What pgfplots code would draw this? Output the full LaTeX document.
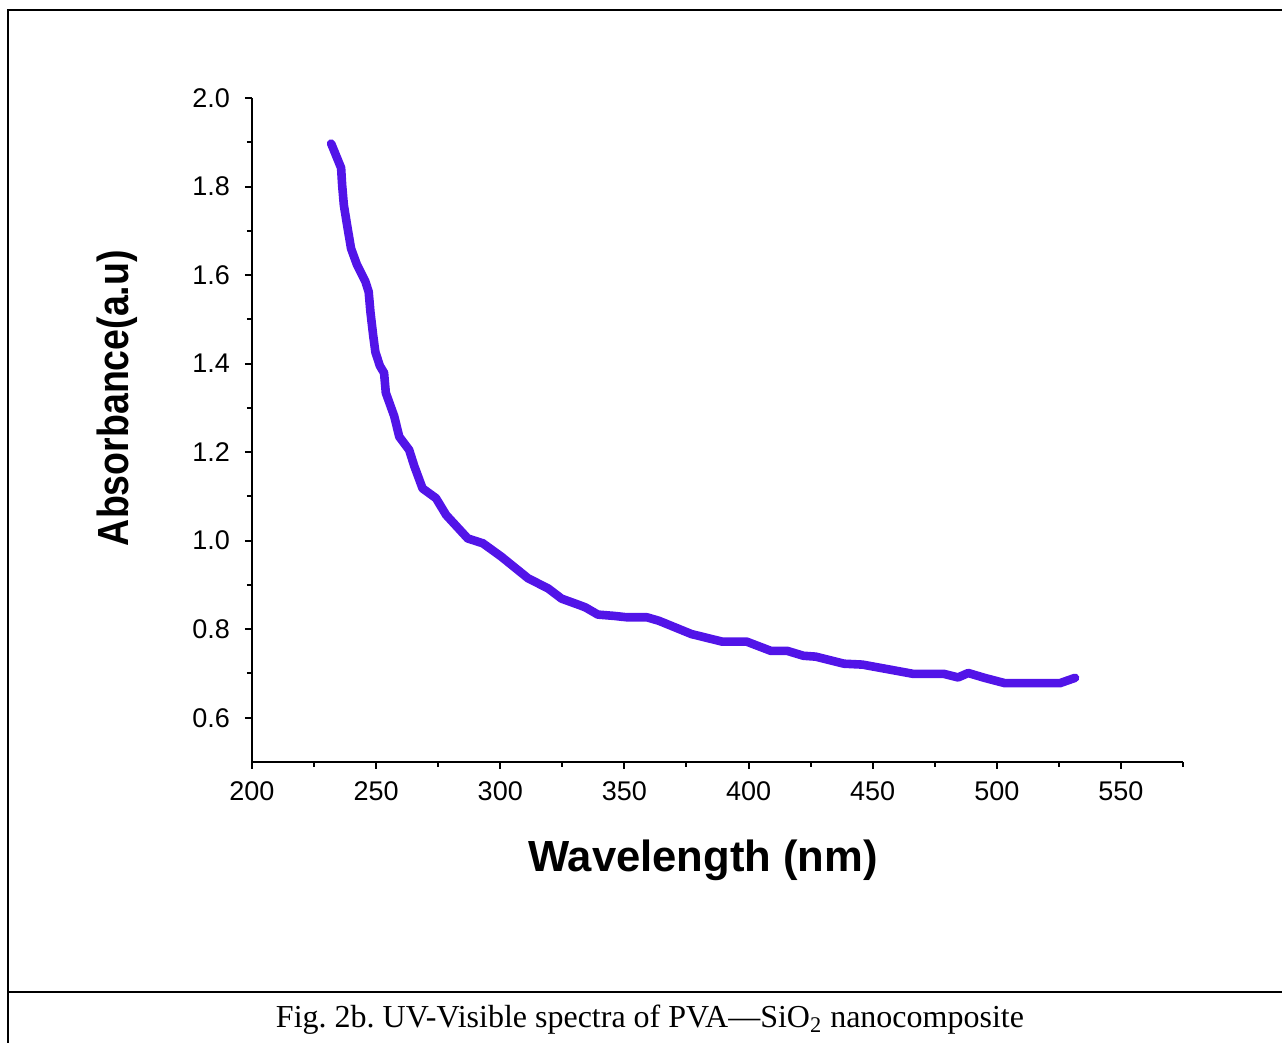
\documentclass[border=0pt]{standalone}
\usepackage{pgfplots}
\pgfplotsset{compat=1.18}
\usepackage{fontspec}
\setmainfont{Liberation Sans}
\newfontfamily\capfont{Liberation Serif}
\definecolor{specblue}{RGB}{82,20,232}

\begin{document}
\frenchspacing
\begin{tikzpicture}
\useasboundingbox (-126pt,-140.5pt) rectangle (515pt,381pt);
% page frame (right side cut off in the original)
\draw[line width=0.8pt] (515pt,376pt) -- (-122pt,376pt) -- (-122pt,-141pt);
\draw[line width=0.8pt] (-122pt,-115pt) -- (515pt,-115pt);
\node[font=\capfont\fontsize{16}{19}\selectfont] at (199pt,-129pt)
  {Fig. 2b. UV-Visible spectra of PVA—SiO\textsubscript{2} nanocomposite};

\begin{axis}[
  scale only axis,
  width=465.5pt,height=332pt,
  xmin=200,xmax=575,
  ymin=0.5,ymax=2.0,
  axis lines=left,
  axis line style={-,line width=1.3pt},
  tick align=outside,
  tick style={black,line width=1pt},
  major tick length=3.5pt,
  minor tick length=2.5pt,
  xtick={200,250,300,350,400,450,500,550},
  minor xtick={225,275,325,375,425,475,525,575},
  ytick={0.6,0.8,1.0,1.2,1.4,1.6,1.8,2.0},
  minor ytick={0.7,0.9,1.1,1.3,1.5,1.7,1.9},
  /pgf/number format/assume math mode=true,
  tick label style={font=\fontsize{13.5}{16}\selectfont},
  yticklabel style={/pgf/number format/.cd,fixed,fixed zerofill,precision=1},
  yticklabel shift=4pt,
  xticklabel shift=3pt,
  xlabel={Wavelength (nm)},
  ylabel={\scalebox{0.86}[1]{Absorbance(a.u)}},
  label style={font=\bfseries\fontsize{21.8}{25}\selectfont},
  xlabel style={at={(axis description cs:0.4845,0)},anchor=center,yshift=-49pt},
  ylabel style={at={(axis description cs:0,0.548)},anchor=center,yshift=67.5pt},
]
\addplot[specblue,line width=4.3pt,line join=round,line cap=round,no markers] table {
231.9 1.897
234.3 1.864
235.9 1.842
236.3 1.804
237.0 1.758
238.3 1.713
239.9 1.660
242.3 1.623
245.7 1.585
247.0 1.562
247.7 1.517
248.8 1.464
249.7 1.426
251.5 1.395
253.2 1.379
253.9 1.334
257.3 1.281
259.3 1.235
263.3 1.205
265.4 1.168
268.7 1.118
274.1 1.096
278.2 1.058
286.9 1.005
293.0 0.994
300.4 0.964
311.2 0.915
319.3 0.892
324.7 0.869
332.1 0.854
334.4 0.849
339.3 0.833
345.9 0.830
350.8 0.827
359.0 0.827
363.9 0.819
377.0 0.789
389.3 0.772
399.2 0.772
409.0 0.751
415.6 0.751
422.1 0.740
427.0 0.738
438.5 0.722
445.9 0.720
455.7 0.710
466.4 0.699
478.7 0.699
484.4 0.691
488.5 0.701
495.1 0.690
503.3 0.678
525.4 0.678
531.5 0.690
};
\end{axis}
\end{tikzpicture}
\end{document}
